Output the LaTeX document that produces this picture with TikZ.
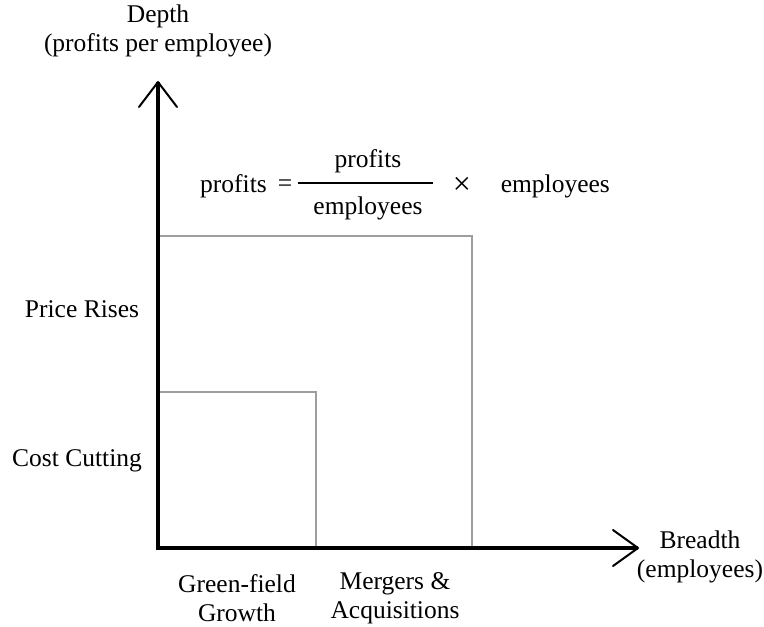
\documentclass[tikz,border=0pt]{standalone}
\usepackage{fontspec}
\setmainfont{Liberation Serif}
\begin{document}
\begin{tikzpicture}[x=1pt,y=-1pt,
  lbl/.style={inner sep=0pt, font=\fontsize{25.5}{29.5}\selectfont, align=center},
  axisline/.style={line width=4pt},
  barb/.style={line width=2pt, line cap=round, line join=round},
  gridline/.style={draw=black!38, line width=1.4pt}]
\useasboundingbox (0,0) rectangle (764,627);
% axes
\coordinate (O) at (158,548);
\coordinate (ytip) at (158,82);
\coordinate (xtip) at (638,548);
\coordinate (ya) at (139,107);
\coordinate (yb) at (177,107);
\coordinate (xa) at (613,530);
\coordinate (xb) at (613,566);
% squares
\coordinate (s1) at (316,392);
\coordinate (s2) at (472,236);
\draw[gridline] (O |- s1) -| (s1 |- O);
\draw[gridline] (O |- s2) -| (s2 |- O);
\draw[axisline] (ytip) -- (O) -- (xtip);
\draw[barb] (ya) -- (ytip) -- (yb);
\draw[barb] (xa) -- (xtip) -- (xb);
% labels
\node[lbl] (depth) at (158,31) {Depth\\(profits per employee)};
\node[lbl] (breadth) at (700,557) {Breadth\\(employees)};
\node[lbl] (price) at (82,309) {Price Rises};
\node[lbl] (cost) at (77,461) {Cost Cutting};
\node[lbl] (green) at (237,598) {Green-field\\Growth};
\node[lbl] (merge) at (395,598) {Mergers \&\\Acquisitions};
% formula
\node[lbl, anchor=west] (p1) at (200,186) {profits};
\node[lbl] (eq) at (285,186) {=};
\coordinate (bl) at (298,183);
\coordinate (br) at (433,183);
\draw[line width=1.6pt] (bl) -- (br);
\node[lbl] (num) at (368,161) {profits};
\node[lbl] (den) at (368,208) {employees};
\node[lbl, font=\fontsize{32}{32}\selectfont] (times) at (462,186) {×};
\node[lbl, anchor=east] (emp) at (610,186) {employees};
\end{tikzpicture}
\end{document}
